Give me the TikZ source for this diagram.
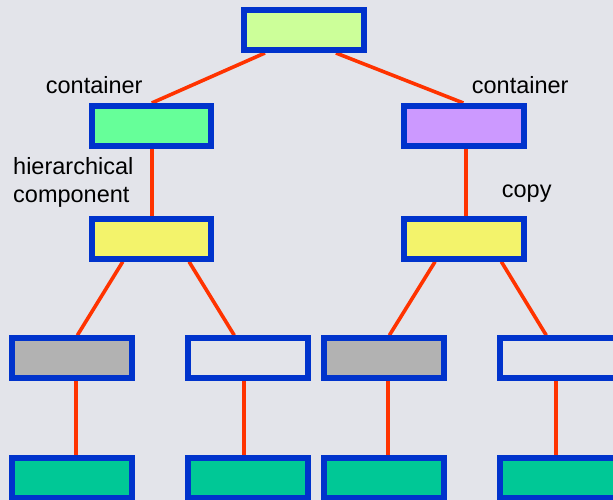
\documentclass[tikz,border=0pt]{standalone}
\usepackage{fontspec}
\setmainfont{Liberation Sans}
\usetikzlibrary{backgrounds,calc}
\definecolor{bgc}{HTML}{E3E4EA}
\definecolor{edgeblue}{HTML}{0033CC}
\definecolor{linkred}{HTML}{FF3300}
\definecolor{rootfill}{HTML}{CCFF99}
\definecolor{contfill}{HTML}{66FF99}
\definecolor{copyfill}{HTML}{CC99FF}
\definecolor{hierfill}{HTML}{F3F36B}
\definecolor{grayfill}{HTML}{B2B2B2}
\definecolor{leaffill}{HTML}{00C896}
\begin{document}
\begin{tikzpicture}[x=1pt,y=-1pt,
  box/.style={draw=edgeblue,line width=6pt,minimum width=119.5pt,minimum height=40pt,inner sep=0pt},
  link/.style={draw=linkred,line width=3.6pt},
  lbl/.style={anchor=base west,inner sep=0pt,font=\fontsize{23.5}{28}\selectfont}]
\useasboundingbox (0,0) rectangle (613,500);
% boxes, centres given in pixel units
\node[box,fill=rootfill] (root) at (304,30) {};
\node[box,fill=contfill] (cl) at (151.5,126) {};
\node[box,fill=copyfill] (cr) at (463.8,126) {};
\node[box,fill=hierfill] (hl) at (151.5,238.7) {};
\node[box,fill=hierfill] (hr) at (463.8,238.7) {};
\node[box,fill=grayfill] (g1) at (71.8,358.3) {};
\node[box,fill=bgc]      (w1) at (248,358.3) {};
\node[box,fill=grayfill] (g2) at (383.8,358.3) {};
\node[box,fill=bgc]      (w2) at (560,358.3) {};
\node[box,fill=leaffill] (l1) at (71.8,478.3) {};
\node[box,fill=leaffill] (l2) at (248,478.3) {};
\node[box,fill=leaffill] (l3) at (383.8,478.3) {};
\node[box,fill=leaffill] (l4) at (560,478.3) {};
% labels
\node[lbl] (t1) at (45.7,94) {container};
\node[lbl] (t2) at (471.7,93.3) {container};
\node[lbl] (t3) at (13,174) {hierarchical};
\node[lbl] (t4) at (13,202) {component};
\node[lbl] (t5) at (501.7,197) {copy};
% connectors, offsets measured from the outer left edge of each box
\begin{scope}[on background layer]
\fill[bgc] (0,0) rectangle (613,500);
\draw[link] ($(root.south west)+(23.7,0)$) -- ($(cl.north west)+(63,0)$);
\draw[link] ($(root.south west)+(94.7,0)$) -- ($(cr.north west)+(62.3,0)$);
\draw[link] ($(cl.south west)+(63,0)$) -- ($(hl.north west)+(63,0)$);
\draw[link] ($(cr.south west)+(65,0)$) -- ($(hr.north west)+(65,0)$);
\draw[link] ($(hl.south west)+(34,0)$) -- ($(g1.north west)+(68.3,0)$);
\draw[link] ($(hl.south west)+(100.3,0)$) -- ($(w1.north west)+(49,0)$);
\draw[link] ($(hr.south west)+(34,0)$) -- ($(g2.north west)+(68.3,0)$);
\draw[link] ($(hr.south west)+(100.3,0)$) -- ($(w2.north west)+(49,0)$);
\draw[link] ($(g1.south west)+(67,0)$) -- ($(l1.north west)+(67,0)$);
\draw[link] ($(w1.south west)+(59,0)$) -- ($(l2.north west)+(59,0)$);
\draw[link] ($(g2.south west)+(67,0)$) -- ($(l3.north west)+(67,0)$);
\draw[link] ($(w2.south west)+(59,0)$) -- ($(l4.north west)+(59,0)$);
\end{scope}
\end{tikzpicture}
\end{document}
